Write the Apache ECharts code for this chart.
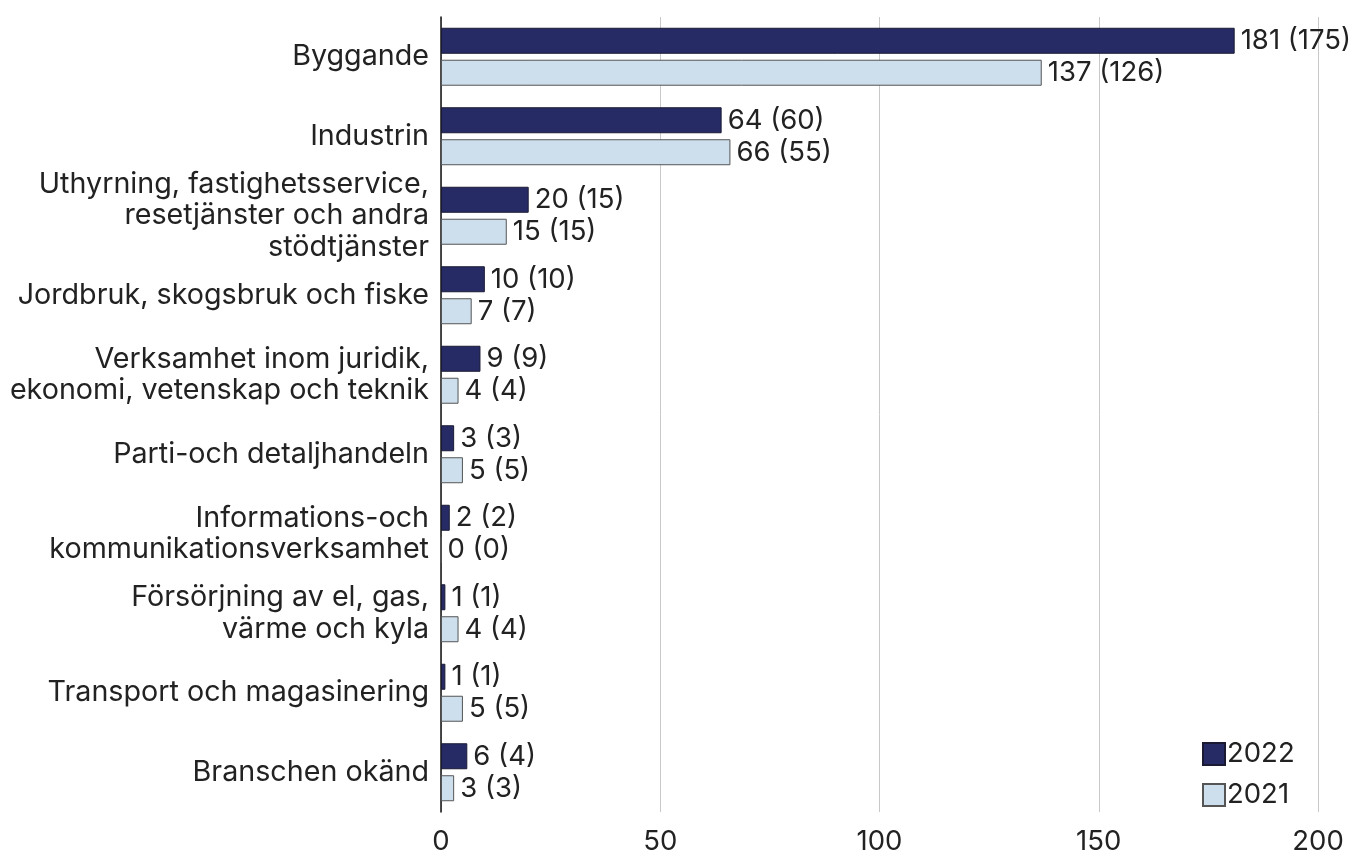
<!DOCTYPE html>
<html>
<head>
<meta charset="utf-8">
<script src="https://cdn.jsdelivr.net/npm/echarts@6/dist/echarts.min.js"></script>
<style>
  html, body { margin: 0; padding: 0; background: #fff; }
  #chart { width: 1354px; height: 856px; }
</style>
</head>
<body>
<div id="chart"></div>
<script>
  // branscher, uppifrån och ned
  var categories = [
    'Byggande',
    'Industrin',
    'Uthyrning, fastighetsservice,\nresetjänster och andra\nstödtjänster',
    'Jordbruk, skogsbruk och fiske',
    'Verksamhet inom juridik,\nekonomi, vetenskap och teknik',
    'Parti-och detaljhandeln',
    'Informations-och\nkommunikationsverksamhet',
    'Försörjning av el, gas,\nvärme och kyla',
    'Transport och magasinering',
    'Branschen okänd'
  ]
  var values2022 = [181, 64, 20, 10, 9, 3, 2, 1, 1, 6]
  var paren2022 = [175, 60, 15, 10, 9, 3, 2, 1, 1, 4]
  var values2021 = [137, 66, 15, 7, 4, 5, 0, 4, 5, 3]
  var paren2021 = [126, 55, 15, 7, 4, 5, 0, 4, 5, 3]
  var xTicks = [0, 50, 100, 150, 200]

  var font = 'Inter, "Noto Sans", sans-serif'
  var myChart = echarts.init(document.getElementById('chart'))

  function label (paren) {
    return {
      show: true,
      position: 'right',
      distance: 6,
      color: '#222',
      fontFamily: font,
      fontSize: 27.5,
      formatter: function (p) { return p.value + ' (' + paren[p.dataIndex] + ')' }
    }
  }

  myChart.setOption({
    animation: false,
    textStyle: { fontFamily: font },
    grid: { left: 441, right: 36, top: 17, bottom: 43, containLabel: false },
    legend: {
      orient: 'vertical',
      left: 1197,
      top: 735,
      icon: 'rect',
      itemWidth: 22,
      itemHeight: 22,
      itemGap: 13,
      data: ['2022', '2021'],
      textStyle: { fontSize: 27.5, color: '#222', fontFamily: font, padding: [0, 0, 0, -3] }
    },
    xAxis: {
      type: 'value',
      min: xTicks[0],
      max: xTicks[xTicks.length - 1],
      interval: 50,
      axisLine: { show: false },
      axisTick: { show: false },
      splitLine: { lineStyle: { color: '#c8c8c8', width: 1 } },
      axisLabel: { fontSize: 27.5, color: '#222', margin: 16, fontFamily: font }
    },
    yAxis: {
      type: 'category',
      inverse: true,
      data: categories,
      axisLine: { show: true, lineStyle: { color: '#111', width: 1.5 } },
      axisTick: { show: false },
      axisLabel: { fontSize: 28.7, color: '#222', margin: 12, lineHeight: 31.5, align: 'right', fontFamily: font }
    },
    series: [
      {
        name: '2022',
        type: 'bar',
        data: values2022,
        barWidth: 26,
        barGap: '23%',
        itemStyle: { color: '#262b66', borderColor: '#1a1a33', borderWidth: 1 },
        label: label(paren2022)
      },
      {
        name: '2021',
        type: 'bar',
        data: values2021,
        barWidth: 26,
        itemStyle: { color: '#cddfec', borderColor: '#555', borderWidth: 1 },
        label: label(paren2021)
      }
    ]
  })
</script>
</body>
</html>
